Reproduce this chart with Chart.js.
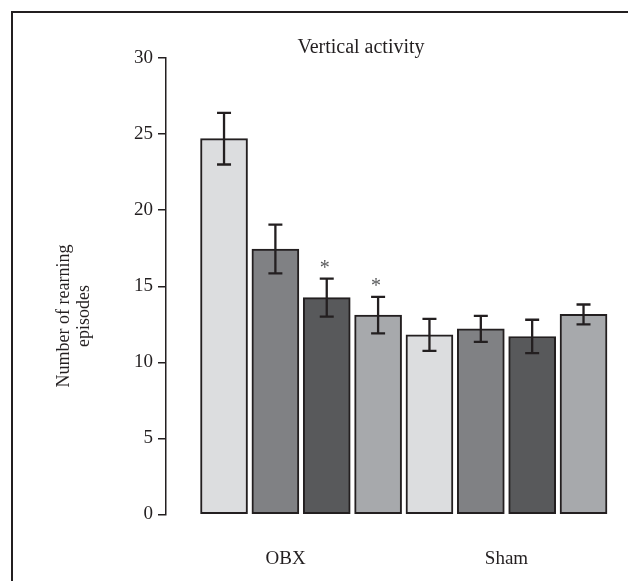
<!DOCTYPE html>
<html>
<head>
<meta charset="utf-8">
<script src="https://cdn.jsdelivr.net/npm/chart.js@4.4.1/dist/chart.umd.min.js"></script>
<style>
  body { margin: 0; background: #fff; }
  #wrap { position: relative; width: 628px; height: 581px; }
  #frame { position: absolute; left: 11px; top: 11px; right: 0; bottom: -4px;
           border-top: 2px solid #231f20; border-left: 2px solid #231f20; pointer-events: none; }
</style>
</head>
<body>
<div id="wrap">
  <canvas id="barChart" width="628" height="581"></canvas>
  <div id="frame"></div>
</div>
<script>
  // data
  const groups = ['OBX', 'Sham'];
  const groupTicks = [2.2, 6.5];
  const means = [24.7, 17.45, 14.25, 13.1, 11.8, 12.2, 11.7, 13.15];
  const errors = [1.7, 1.6, 1.25, 1.2, 1.05, 0.85, 1.1, 0.65];
  const starred = [false, false, true, true, false, false, false, false];
  const yTicks = [0, 5, 10, 15, 20, 25, 30];
  const barColors = ['#dcdddf', '#808184', '#58595b', '#a7a9ac',
                     '#dcdddf', '#808184', '#58595b', '#a7a9ac'];

  const ink = '#231f20';
  const serif = '"Liberation Serif", "Times New Roman", serif';

  // error bars + asterisks
  const errorBars = {
      id: 'errorBars',
      afterDatasetsDraw(chart) {
          const ctx = chart.ctx;
          const y = chart.scales.y;
          const bars = chart.getDatasetMeta(0).data;
          ctx.save();
          ctx.strokeStyle = ink;
          ctx.lineWidth = 2.3;
          bars.forEach((bar, i) => {
              const top = y.getPixelForValue(means[i] + errors[i]);
              const bot = y.getPixelForValue(means[i] - errors[i]);
              ctx.beginPath();
              ctx.moveTo(bar.x, top); ctx.lineTo(bar.x, bot);
              ctx.moveTo(bar.x - 7, top); ctx.lineTo(bar.x + 7, top);
              ctx.moveTo(bar.x - 7, bot); ctx.lineTo(bar.x + 7, bot);
              ctx.stroke();
              if (starred[i]) {
                  ctx.fillStyle = '#58595b';
                  ctx.font = '20px ' + serif;
                  ctx.textAlign = 'center';
                  ctx.textBaseline = 'alphabetic';
                  ctx.fillText('*', bar.x - 2, top - 5);
              }
          });
          ctx.restore();
      }
  };

  // title and two-line y axis title
  const labels = {
      id: 'labels',
      afterDraw(chart) {
          const ctx = chart.ctx;
          ctx.save();
          ctx.fillStyle = ink;
          ctx.textAlign = 'center';
          ctx.textBaseline = 'middle';
          ctx.font = '20px ' + serif;
          ctx.fillText('Vertical activity', 361, 48);
          ctx.font = '18px ' + serif;
          ctx.translate(64, 316);
          ctx.rotate(-Math.PI / 2);
          ctx.fillText('Number of rearning', 0, 0);
          ctx.fillText('episodes', 0, 20);
          ctx.restore();
      }
  };

  const ctx1 = document.getElementById('barChart').getContext('2d');
  new Chart(ctx1, {
      type: 'bar',
      data: {
          datasets: [{
              data: means.map((v, i) => ({ x: i + 1, y: v })),
              backgroundColor: barColors,
              borderColor: ink,
              borderWidth: 2,
              borderSkipped: false,
              barThickness: 47
          }]
      },
      options: {
          responsive: false,
          animation: false,
          devicePixelRatio: 1,
          layout: { padding: { top: 58, right: 17, left: 0, bottom: 0 } },
          plugins: {
              legend: { display: false },
              tooltip: { enabled: false }
          },
          scales: {
              x: {
                  type: 'linear',
                  offset: false,
                  min: -0.13,
                  max: 8.535,
                  grid: { display: false, drawTicks: false },
                  border: { display: false },
                  afterBuildTicks: (scale) => {
                      scale.ticks = groupTicks.map(v => ({ value: v }));
                  },
                  afterFit: (scale) => { scale.height = 66.5; },
                  ticks: {
                      padding: 33,
                      maxRotation: 0,
                      autoSkip: false,
                      color: ink,
                      font: { family: serif, size: 19 },
                      callback: (value, index) => groups[index]
                  }
              },
              y: {
                  min: 0,
                  max: 30,
                  afterBuildTicks: (scale) => {
                      scale.ticks = yTicks.map(v => ({ value: v }));
                  },
                  afterFit: (scale) => { scale.width = 166; },
                  grid: {
                      drawOnChartArea: false,
                      drawTicks: true,
                      tickLength: 8,
                      color: ink,
                      lineWidth: 1.5
                  },
                  border: { display: true, color: ink, width: 1.5 },
                  ticks: {
                      padding: 5,
                      color: ink,
                      font: { family: serif, size: 19 }
                  }
              }
          }
      },
      plugins: [errorBars, labels]
  });
</script>
</body>
</html>
